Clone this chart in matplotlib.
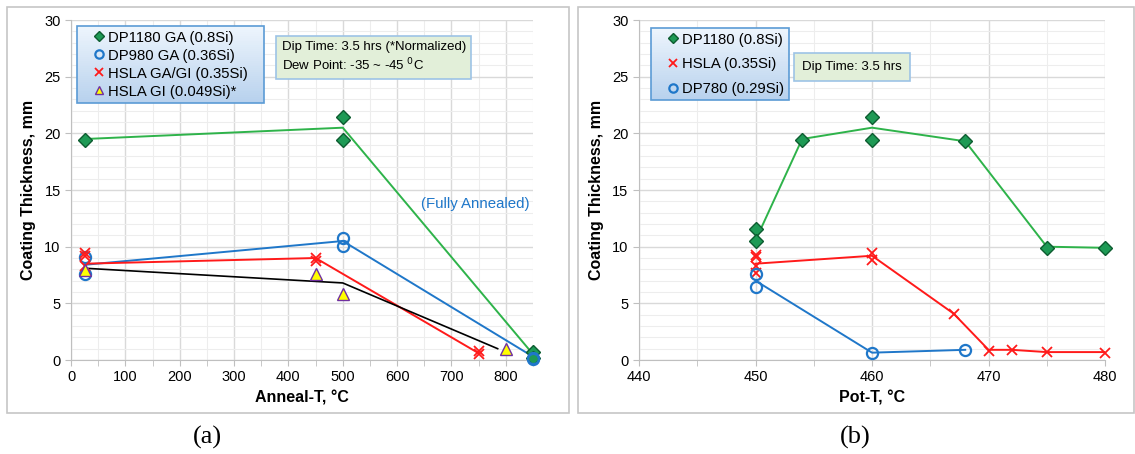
import matplotlib
matplotlib.use("Agg")
import matplotlib.pyplot as plt
import numpy as np
from matplotlib.patches import Rectangle
from matplotlib.ticker import MultipleLocator

plt.rcParams['font.family'] = ['Liberation Sans', 'DejaVu Sans']

# --- panel (a): anneal temperature
a_dp1180_x = [25, 500, 500, 850, 850]
a_dp1180_y = [19.4, 21.4, 19.4, 0.7, 0.2]
a_dp1180_line_x = [25, 500, 845]
a_dp1180_line_y = [19.5, 20.5, 0.8]

a_dp980_x = [25, 25, 500, 500, 850, 850]
a_dp980_y = [9.1, 7.6, 10.8, 10.1, 0.2, 0.1]
a_dp980_line_x = [25, 500, 843]
a_dp980_line_y = [8.4, 10.5, 0.5]

a_hsla_x = [25, 25, 25, 450, 450, 750, 750]
a_hsla_y = [9.4, 9.2, 8.3, 9.0, 8.7, 0.8, 0.5]
a_hsla_line_x = [25, 450, 750]
a_hsla_line_y = [8.5, 9.0, 0.6]

a_hslagi_x = [25, 450, 500, 800]
a_hslagi_y = [7.9, 7.6, 5.8, 1.0]
a_hslagi_line_x = [25, 500, 785]
a_hslagi_line_y = [8.1, 6.8, 1.0]

# --- panel (b): pot temperature
b_dp1180_x = [450, 450, 454, 460, 460, 468, 475, 480]
b_dp1180_y = [11.6, 10.5, 19.4, 21.4, 19.4, 19.3, 9.9, 9.9]
b_dp1180_line_x = [450.2, 454, 460, 468, 475, 480]
b_dp1180_line_y = [11.0, 19.5, 20.5, 19.3, 10.0, 9.9]

b_hsla_x = [450, 450, 450, 450, 460, 460, 467, 470, 472, 475, 480]
b_hsla_y = [9.3, 9.1, 8.3, 7.7, 9.4, 8.8, 4.1, 0.8, 0.9, 0.7, 0.6]
b_hsla_line_x = [450, 460, 467, 470, 472, 475, 480]
b_hsla_line_y = [8.5, 9.2, 4.1, 0.9, 0.9, 0.7, 0.7]

b_dp780_x = [450, 450, 460, 468]
b_dp780_y = [7.6, 6.4, 0.6, 0.9]
b_dp780_line_x = [450, 460, 468]
b_dp780_line_y = [7.0, 0.65, 0.9]

GREEN_L = '#2eb34a'
GREEN_M = '#1e9a55'
GREEN_E = '#0d5c30'
BLUE = '#1f77c9'
RED = '#ff1a1a'

fig = plt.figure(figsize=(11.35, 4.54), dpi=100)

# panel frames
for x0, w in ((0.0062, 0.4952), (0.5093, 0.4898)):
    fig.patches.append(Rectangle((x0, 0.0903), w, 0.894, transform=fig.transFigure,
                                 fill=False, edgecolor='#c6c6c6', lw=1.2))

ax1 = fig.add_axes([0.0626, 0.2070, 0.4070, 0.7489])
ax2 = fig.add_axes([0.5630, 0.2070, 0.4106, 0.7489])


def style_axes(ax, xlim, xmaj, xmin, xlabel):
    ax.set_xlim(*xlim)
    ax.set_ylim(0, 30)
    ax.xaxis.set_major_locator(MultipleLocator(xmaj))
    ax.xaxis.set_minor_locator(MultipleLocator(xmin))
    ax.yaxis.set_major_locator(MultipleLocator(5))
    ax.yaxis.set_minor_locator(MultipleLocator(1))
    ax.grid(which='major', color='#d9d9d9', lw=1.0, zorder=0)
    ax.grid(which='minor', color='#ededed', lw=0.8, zorder=0)
    ax.set_axisbelow(True)
    for s in ('top', 'right'):
        ax.spines[s].set_visible(False)
    for s in ('left', 'bottom'):
        ax.spines[s].set_color('#bfbfbf')
    ax.tick_params(which='both', colors='#bfbfbf', labelcolor='black', labelsize=10.5)
    ax.tick_params(which='major', length=4)
    ax.tick_params(axis='x', which='major', pad=3)
    ax.tick_params(axis='x', which='minor', length=4)
    ax.tick_params(axis='y', which='minor', length=0)
    ax.set_ylabel('Coating Thickness, mm', fontsize=11.5, fontweight='bold', labelpad=6)
    ax.set_xlabel(xlabel, fontsize=11.5, fontweight='bold', labelpad=5)


style_axes(ax1, (0, 850), 100, 50, 'Anneal-T, °C')
style_axes(ax2, (440, 480), 10, 5, 'Pot-T, °C')

diamond = dict(marker='D', ms=7, mfc=GREEN_M, mec=GREEN_E, mew=1.0, ls='none', clip_on=False)
circle = dict(marker='o', ms=8, mfc='none', mec=BLUE, mew=1.6, ls='none', clip_on=False)
cross = dict(marker='x', ms=7.5, mec=RED, mew=1.3, ls='none', clip_on=False)
tri = dict(marker='^', ms=8, mfc='#ffff00', mec='#7030a0', mew=1.0, ls='none', clip_on=False)

# panel (a)
ax1.plot(a_dp1180_line_x, a_dp1180_line_y, color=GREEN_L, lw=1.4, zorder=2)
ax1.plot(a_dp980_line_x, a_dp980_line_y, color=BLUE, lw=1.4, zorder=2)
ax1.plot(a_hsla_line_x, a_hsla_line_y, color=RED, lw=1.4, zorder=2)
ax1.plot(a_hslagi_line_x, a_hslagi_line_y, color='black', lw=1.2, zorder=2)
ax1.plot(a_dp1180_x, a_dp1180_y, label='DP1180 GA (0.8Si)', zorder=3, **diamond)
ax1.plot(a_dp980_x, a_dp980_y, label='DP980 GA (0.36Si)', zorder=3, **circle)
ax1.plot(a_hsla_x, a_hsla_y, label='HSLA GA/GI (0.35Si)', zorder=3, **cross)
ax1.plot(a_hslagi_x, a_hslagi_y, label='HSLA GI (0.049Si)*', zorder=3, **tri)

ax1.text(743, 13.8, '(Fully Annealed)', color=BLUE, fontsize=10.8, ha='center', va='center')
ax1.text(0.4416 + 0.014, 0.89, 'Dip Time: 3.5 hrs (*Normalized)\nDew Point: -35 ~ -45 $^0$C',
         transform=ax1.transAxes, fontsize=9.5, va='center', ha='left', linespacing=1.25,
         bbox=dict(boxstyle='square,pad=0.4', fc='#e2efd9', ec='#9dc3e6', lw=1.2))

# panel (b)
ax2.plot(b_dp1180_line_x, b_dp1180_line_y, color=GREEN_L, lw=1.4, zorder=2)
ax2.plot(b_hsla_line_x, b_hsla_line_y, color=RED, lw=1.4, zorder=2)
ax2.plot(b_dp780_line_x, b_dp780_line_y, color=BLUE, lw=1.4, zorder=2)
ax2.plot(b_dp1180_x, b_dp1180_y, label='DP1180 (0.8Si)', zorder=3, **diamond)
ax2.plot(b_hsla_x, b_hsla_y, label='HSLA (0.35Si)', zorder=3, **cross)
ax2.plot(b_dp780_x, b_dp780_y, label='DP780 (0.29Si)', zorder=3, **circle)

ax2.text(0.333 + 0.017, 0.862, 'Dip Time: 3.5 hrs', transform=ax2.transAxes, fontsize=9.5,
         va='center', ha='left',
         bbox=dict(boxstyle='square,pad=0.6', fc='#e2efd9', ec='#9dc3e6', lw=1.2))

legends = []
for ax, box, spacing in ((ax1, (0.013, 0.5, 0.405, 0.482), 0.27),
                         (ax2, (0.026, 0.5, 0.296, 0.476), 0.72)):
    leg = ax.legend(loc='upper left', bbox_to_anchor=box, mode='expand', borderaxespad=0,
                    fontsize=10.7, fancybox=False, framealpha=1, handlelength=2.4,
                    handletextpad=-0.6, labelspacing=spacing, borderpad=0.3,
                    markerscale=0.75)
    leg.get_frame().set_facecolor('none')
    leg.get_frame().set_edgecolor('#5b9bd5')
    leg.get_frame().set_linewidth(1.2)
    legends.append((ax, leg))

# gradient fill behind the legends
fig.canvas.draw()
top_c = np.array([0.93, 0.96, 0.99])
bot_c = np.array([0.72, 0.82, 0.93])
for ax, leg in legends:
    bb = leg.get_frame().get_window_extent().transformed(ax.transAxes.inverted())
    n = 40
    hh = bb.height / n
    for i in range(n):
        t = i / (n - 1)
        ax.add_patch(Rectangle((bb.x0, bb.y1 - (i + 1) * hh), bb.width, hh * 1.05,
                               transform=ax.transAxes, fc=top_c * (1 - t) + bot_c * t,
                               ec='none', zorder=4.5, clip_on=False))

fig.text(207 / 1135, 1 - 437 / 454, '(a)', family='Liberation Serif', fontsize=19,
         ha='center', va='center')
fig.text(855 / 1135, 1 - 437 / 454, '(b)', family='Liberation Serif', fontsize=19,
         ha='center', va='center')

fig.savefig('out.png', dpi=100)
